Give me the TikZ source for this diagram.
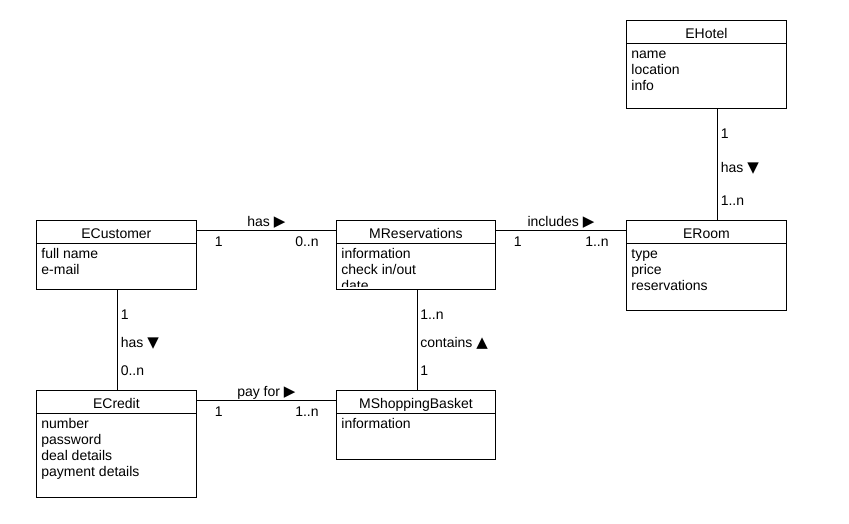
\documentclass[tikz,border=0pt]{standalone}
\usepackage{fontspec}
\setmainfont{Liberation Sans}
\newfontfamily\symfont{DejaVu Sans}
\usetikzlibrary{calc}

% Triangulos de lectura
\newcommand{\tright}{{\symfont\fontsize{15}{15}\selectfont ▶}}
\newcommand{\tdown}{{\symfont\fontsize{15}{15}\selectfont ▼}}
\newcommand{\tup}{{\symfont\fontsize{15}{15}\selectfont ▲}}

\begin{document}
\begin{tikzpicture}[x=1pt,y=-1pt,line width=0.8pt,
  font=\fontsize{14}{16}\selectfont,
  classbox/.style={draw,anchor=north west,minimum width=160pt,inner sep=0pt},
  ctitle/.style={anchor=base,inner sep=0pt},
  attr/.style={anchor=base west,inner sep=0pt},
  vlab/.style={anchor=base west,inner sep=0pt,xshift=3pt},
  hlab/.style={anchor=base,inner sep=0pt,yshift=4.5pt},
  mleft/.style={anchor=base,inner sep=0pt,xshift=22pt,yshift=-15.5pt},
  mright/.style={anchor=base east,inner sep=0pt,xshift=-17pt,yshift=-15.5pt}]

\useasboundingbox (0,0) rectangle (849,523);

% EHotel
\node[classbox,minimum height=88pt] (hotel) at (626,20) {};
\node[ctitle] (hotelT) at ([yshift=-18.5pt]hotel.north) {EHotel};
\draw ([yshift=-23pt]hotel.north west) coordinate (hotelH) -- ([yshift=-23pt]hotel.north east);
\foreach \a [count=\i] in {name,location,info}
  \node[attr] at ($(hotelH)+(5,{16*\i-1})$) {\a};

% ECustomer
\node[classbox,minimum height=69pt] (cust) at (36,220) {};
\node[ctitle] (custT) at ([yshift=-18.5pt]cust.north) {ECustomer};
\draw ([yshift=-23pt]cust.north west) coordinate (custH) -- ([yshift=-23pt]cust.north east);
\foreach \a [count=\i] in {full name,e-mail}
  \node[attr] at ($(custH)+(5,{16*\i-1})$) {\a};

% MReservations (el ultimo atributo queda cortado)
\node[classbox,minimum width=159pt,minimum height=69pt] (mres) at (336,220) {};
\node[ctitle] (mresT) at ([yshift=-18.5pt]mres.north) {MReservations};
\draw ([yshift=-23pt]mres.north west) coordinate (mresH) -- ([yshift=-23pt]mres.north east);
\begin{scope}
  \clip ([shift={(0.5pt,-0.5pt)}]mres.north west) rectangle ([shift={(-0.5pt,3pt)}]mres.south east);
  \foreach \a [count=\i] in {information,check in/out,date}
    \node[attr] at ($(mresH)+(5,{16*\i-1})$) {\a};
\end{scope}

% ERoom
\node[classbox,minimum height=90pt] (room) at (626,220) {};
\node[ctitle] (roomT) at ([yshift=-18.5pt]room.north) {ERoom};
\draw ([yshift=-23pt]room.north west) coordinate (roomH) -- ([yshift=-23pt]room.north east);
\foreach \a [count=\i] in {type,price,reservations}
  \node[attr] at ($(roomH)+(5,{16*\i-1})$) {\a};

% ECredit
\node[classbox,minimum height=107pt] (credit) at (36,390) {};
\node[ctitle] (creditT) at ([yshift=-18.5pt]credit.north) {ECredit};
\draw ([yshift=-23pt]credit.north west) coordinate (creditH) -- ([yshift=-23pt]credit.north east);
\foreach \a [count=\i] in {number,password,deal details,payment details}
  \node[attr] at ($(creditH)+(5,{16*\i-1})$) {\a};

% MShoppingBasket
\node[classbox,minimum width=159pt,minimum height=69pt] (basket) at (336,390) {};
\node[ctitle] (basketT) at ([yshift=-18.5pt]basket.north) {MShoppingBasket};
\draw ([yshift=-23pt]basket.north west) coordinate (basketH) -- ([yshift=-23pt]basket.north east);
\foreach \a [count=\i] in {information}
  \node[attr] at ($(basketH)+(5,{16*\i-1})$) {\a};

% Asociaciones horizontales
\draw ([yshift=-10.5pt]cust.north east) -- ([yshift=-10.5pt]mres.north west)
  node[hlab,midway] {has \tright}
  node[mleft,pos=0] {1}
  node[mright,pos=1] {0..n};
\draw ([yshift=-10.5pt]mres.north east) -- ([yshift=-10.5pt]room.north west)
  node[hlab,midway] {includes \tright}
  node[mleft,pos=0] {1}
  node[mright,pos=1] {1..n};
\draw ([yshift=-10.5pt]credit.north east) -- ([yshift=-10.5pt]basket.north west)
  node[hlab,midway] {pay for \tright}
  node[mleft,pos=0] {1}
  node[mright,pos=1] {1..n};

% Asociaciones verticales
\draw ([xshift=11pt]hotel.south) -- ([xshift=11pt]room.north)
  node[vlab,pos=0,yshift=-30pt] {1}
  node[vlab,pos=0.575] {has \tdown}
  node[vlab,pos=1,yshift=15pt] {1..n};
\draw ([xshift=1pt]cust.south) -- ([xshift=1pt]credit.north)
  node[vlab,pos=0,yshift=-30pt] {1}
  node[vlab,pos=0.575] {has \tdown}
  node[vlab,pos=1,yshift=15pt] {0..n};
\draw ([xshift=1pt]mres.south) -- ([xshift=1pt]basket.north)
  node[vlab,pos=0,yshift=-30pt] {1..n}
  node[vlab,pos=0.575] {contains \tup}
  node[vlab,pos=1,yshift=15pt] {1};
\end{tikzpicture}
\end{document}
